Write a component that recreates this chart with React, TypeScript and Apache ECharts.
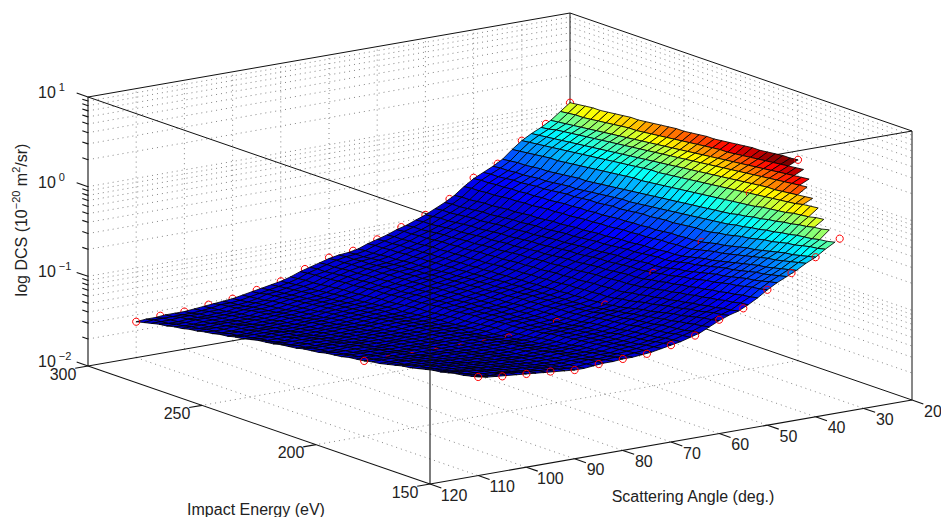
import React, { useEffect, useRef } from "react";
import * as echarts from "echarts";

// Tick labels
const angleTicks = [20, 30, 40, 50, 60, 70, 80, 90, 100, 110, 120];
const energyTicks = [150, 200, 250, 300];
const decadeExponents = [-2, -1, 0, 1];
const minorMultipliers = [2, 3, 4, 5, 6, 7, 8, 9];

// Red markers: log10(DCS) x 100, each read by eye from the marker's position in the picture
const markerAngles300 = [20, 25, 30, 35, 40, 45, 50, 55, 60, 65, 70, 75, 80, 85, 90, 95, 100, 105, 110];
const markerLog300 = [0, -19, -33, -54, -65, -84, -97, -106, -115, -123, -126, -134, -143, -148, -153, -155, -158, -158, -160];
const markerAngles200 = [20, 30, 40, 50, 60, 70, 80, 85, 90, 95, 100, 105, 110];
const markerLog200 = [24, -4, -49, -74, -100, -110, -118, -120, -120, -120, -120, -119, -116];
const markerAngles150 = [35, 40, 45, 50, 55, 60, 65, 70, 75, 80, 85, 90, 95, 100, 105, 110];
const markerLog150 = [-6, -22, -35, -49, -65, -73, -86, -92, -97, -98, -99, -101, -98, -96, -94, -90];

// Surface mesh: log10(DCS) x 100, estimated by eye. One list per scattering angle (20, 22, ... 110 deg),
// each ending at 300 eV, in energy steps of 10/3 eV; short lists stop where the surface's staircase edge does.
const meshAngleStart = 20;
const meshAngleStep = 2;
const meshEnergyEnd = 300;
const meshEnergyStep = 10 / 3;
const r020 = [24,23,23,22,21,20,20,19,18,17,16,15,15,14,13,12,12,11,10,9,8,7,7,6,5,4,3,3,2,1,0];
const r022 = [21,20,19,18,17,16,15,14,13,12,11,11,10,9,8,7,6,5,4,3,2,1,0,0,-1,-2,-3,-4,-5,-6,-6,-7,-8];
const r024 = [18,17,16,15,14,13,12,11,10,9,8,7,6,5,4,3,2,1,0,-1,-2,-3,-4,-5,-6,-7,-8,-9,-10,-11,-12,-13,-14,-15,-16];
const r026 = [14,13,12,11,10,9,8,7,6,5,4,3,2,1,0,-1,-2,-3,-4,-5,-6,-7,-8,-9,-10,-11,-12,-13,-14,-15,-16,-17,-18,-19,-21,-22];
const r028 = [9,8,7,6,5,4,4,3,2,1,0,-1,-2,-3,-4,-5,-6,-7,-8,-9,-10,-11,-12,-13,-14,-15,-16,-17,-18,-19,-20,-21,-22,-23,-24,-25,-26,-27];
const r030 = [6,5,4,2,1,0,-1,-2,-3,-4,-5,-6,-7,-8,-9,-10,-11,-12,-13,-14,-15,-16,-16,-17,-18,-19,-20,-21,-22,-23,-24,-25,-26,-27,-28,-29,-30,-31,-32,-33];
const r032 = [1,0,-2,-3,-4,-6,-7,-8,-9,-11,-12,-13,-14,-15,-16,-17,-18,-19,-20,-21,-22,-23,-24,-25,-26,-26,-27,-28,-29,-30,-31,-32,-33,-34,-35,-36,-36,-37,-38,-39,-40,-41];
const r034 = [-3,-5,-6,-8,-9,-11,-12,-14,-15,-17,-18,-20,-21,-23,-24,-25,-26,-27,-28,-29,-30,-31,-32,-33,-34,-35,-36,-37,-38,-39,-40,-41,-42,-42,-43,-44,-45,-46,-46,-47,-48,-48,-49,-50];
const r036 = [-9,-11,-12,-14,-15,-16,-18,-19,-21,-22,-24,-25,-27,-28,-30,-31,-32,-33,-34,-35,-36,-37,-38,-39,-40,-41,-42,-43,-43,-44,-45,-46,-47,-48,-49,-49,-50,-51,-52,-52,-53,-54,-54,-55,-55,-56];
const r038 = [-15,-17,-18,-20,-22,-23,-25,-27,-28,-30,-32,-33,-35,-37,-38,-40,-41,-41,-42,-43,-44,-44,-45,-46,-46,-47,-48,-49,-49,-50,-51,-51,-52,-53,-53,-54,-55,-56,-56,-57,-58,-58,-59,-60,-60,-61];
const r040 = [-22,-24,-26,-28,-29,-31,-33,-35,-37,-38,-40,-42,-44,-45,-47,-49,-50,-50,-51,-51,-52,-53,-53,-54,-54,-55,-55,-56,-57,-57,-58,-58,-59,-59,-60,-61,-61,-62,-62,-63,-63,-64,-64,-65,-65,-66];
const r042 = [-27,-29,-31,-33,-35,-36,-38,-40,-42,-44,-46,-48,-49,-51,-53,-55,-56,-56,-57,-57,-58,-59,-59,-60,-60,-61,-62,-62,-63,-63,-64,-65,-65,-66,-66,-67,-68,-68,-69,-69,-70,-71,-71,-72,-72,-73];
const r044 = [-33,-35,-37,-39,-41,-42,-44,-46,-48,-50,-52,-54,-55,-57,-59,-61,-62,-62,-63,-64,-64,-65,-66,-66,-67,-68,-68,-69,-70,-70,-71,-72,-72,-73,-74,-74,-75,-76,-76,-77,-78,-78,-79,-80,-80,-81];
const r046 = [-38,-40,-42,-44,-45,-47,-49,-51,-52,-54,-56,-58,-60,-61,-63,-65,-66,-66,-67,-68,-69,-69,-70,-71,-72,-72,-73,-74,-75,-75,-76,-77,-78,-78,-79,-80,-80,-81,-82,-83,-83,-84,-85,-86,-86,-87];
const r048 = [-43,-45,-47,-49,-50,-52,-54,-56,-57,-59,-61,-63,-65,-66,-68,-70,-71,-71,-72,-73,-74,-74,-75,-76,-77,-77,-78,-79,-80,-80,-81,-82,-83,-83,-84,-85,-85,-86,-87,-88,-88,-89,-90,-91,-91,-92];
const r050 = [-49,-51,-52,-54,-56,-57,-59,-61,-62,-64,-66,-67,-69,-71,-72,-74,-75,-76,-76,-77,-78,-79,-79,-80,-81,-82,-82,-83,-84,-85,-86,-86,-87,-88,-89,-89,-90,-91,-92,-92,-93,-94,-95,-95,-96,-97];
const r052 = [-56,-58,-59,-61,-62,-64,-65,-67,-68,-70,-71,-73,-74,-76,-77,-79,-80,-80,-81,-82,-83,-83,-84,-85,-86,-86,-87,-88,-89,-89,-90,-91,-92,-92,-93,-94,-94,-95,-96,-97,-97,-98,-99,-100,-100,-101];
const r054 = [-62,-63,-65,-66,-68,-69,-71,-72,-74,-75,-77,-78,-80,-81,-83,-84,-85,-85,-86,-87,-87,-88,-89,-90,-90,-91,-92,-92,-93,-94,-94,-95,-96,-97,-97,-98,-99,-99,-100,-101,-101,-102,-103,-104,-104,-105];
const r056 = [-67,-69,-70,-72,-73,-75,-76,-78,-79,-81,-82,-84,-85,-87,-88,-90,-91,-91,-92,-92,-93,-94,-94,-95,-95,-96,-97,-97,-98,-98,-99,-100,-100,-101,-101,-102,-103,-103,-104,-104,-105,-106,-106,-107,-107,-108];
const r058 = [-70,-72,-73,-75,-77,-78,-80,-82,-83,-85,-87,-88,-90,-92,-93,-95,-96,-96,-97,-97,-98,-98,-99,-100,-100,-101,-101,-102,-102,-103,-103,-104,-105,-105,-106,-106,-107,-107,-108,-108,-109,-110,-110,-111,-111,-112];
const r060 = [-74,-76,-77,-79,-81,-83,-84,-86,-88,-90,-91,-93,-95,-97,-98,-100,-100,-101,-101,-102,-102,-103,-103,-104,-104,-105,-105,-106,-106,-107,-107,-108,-108,-109,-109,-110,-110,-111,-111,-112,-112,-113,-113,-114,-114,-115];
const r062 = [-79,-81,-82,-84,-85,-87,-88,-90,-91,-93,-94,-96,-97,-99,-100,-102,-103,-103,-104,-104,-105,-105,-106,-106,-107,-107,-108,-108,-109,-110,-110,-111,-111,-112,-112,-113,-113,-114,-114,-115,-115,-116,-116,-117,-117,-118];
const r064 = [-84,-85,-87,-88,-89,-90,-92,-93,-94,-95,-97,-98,-99,-100,-102,-103,-104,-104,-105,-106,-106,-107,-107,-108,-109,-109,-110,-111,-111,-112,-112,-113,-114,-114,-115,-116,-116,-117,-117,-118,-119,-119,-120,-121,-121,-122];
const r066 = [-87,-88,-89,-91,-92,-93,-94,-95,-97,-98,-99,-100,-101,-103,-104,-105,-106,-106,-107,-108,-108,-109,-109,-110,-111,-111,-112,-113,-113,-114,-114,-115,-116,-116,-117,-118,-118,-119,-119,-120,-121,-121,-122,-123,-123,-124];
const r068 = [-90,-91,-92,-94,-95,-96,-97,-98,-100,-101,-102,-103,-104,-106,-107,-108,-109,-109,-110,-110,-111,-111,-112,-113,-113,-114,-114,-115,-115,-116,-116,-117,-118,-118,-119,-119,-120,-120,-121,-121,-122,-123,-123,-124,-124,-125];
const r070 = [-92,-93,-94,-96,-97,-98,-99,-100,-102,-103,-104,-105,-106,-108,-109,-110,-111,-111,-112,-112,-113,-113,-114,-115,-115,-116,-116,-117,-117,-118,-118,-119,-120,-120,-121,-121,-122,-122,-123,-123,-124,-125,-125,-126,-126,-127];
const r072 = [-94,-95,-96,-98,-99,-100,-101,-102,-103,-104,-105,-106,-107,-109,-110,-111,-112,-112,-113,-114,-114,-115,-115,-116,-117,-117,-118,-119,-119,-120,-120,-121,-122,-122,-123,-124,-124,-125,-125,-126,-127,-127,-128,-129,-129,-130];
const r074 = [-96,-97,-98,-99,-100,-101,-102,-103,-104,-105,-106,-107,-108,-110,-111,-112,-113,-113,-114,-115,-115,-116,-117,-118,-118,-119,-120,-120,-121,-122,-122,-123,-124,-125,-125,-126,-127,-127,-128,-129,-129,-130,-131,-132,-132,-133];
const r076 = [-97,-98,-99,-100,-101,-102,-103,-104,-105,-106,-107,-108,-109,-111,-112,-113,-114,-115,-115,-116,-117,-118,-118,-119,-120,-121,-121,-122,-123,-124,-125,-125,-126,-127,-128,-128,-129,-130,-131,-131,-132,-133,-134,-134,-135,-136];
const r078 = [-98,-99,-100,-102,-103,-104,-105,-106,-108,-109,-110,-111,-112,-114,-115,-116,-117,-118,-118,-119,-120,-121,-122,-122,-123,-124,-125,-126,-126,-127,-128,-129,-130,-130,-131,-132,-133,-134,-134,-135,-136,-137,-138,-138,-139,-140];
const r080 = [-98,-99,-101,-102,-103,-105,-106,-107,-109,-110,-111,-113,-114,-115,-117,-118,-119,-120,-120,-121,-122,-123,-124,-125,-125,-126,-127,-128,-129,-130,-130,-131,-132,-133,-134,-135,-135,-136,-137,-138,-139,-140,-140,-141,-142,-143];
const r082 = [-99,-100,-102,-103,-104,-105,-107,-108,-109,-110,-112,-113,-114,-115,-117,-118,-119,-120,-121,-122,-122,-123,-124,-125,-126,-127,-128,-129,-130,-131,-131,-132,-133,-134,-135,-136,-137,-138,-139,-140,-140,-141,-142,-143,-144,-145];
const r084 = [-99,-100,-101,-103,-104,-105,-106,-107,-109,-110,-111,-112,-113,-115,-116,-117,-118,-119,-120,-121,-122,-123,-124,-125,-126,-127,-128,-129,-130,-131,-132,-133,-134,-135,-136,-137,-138,-139,-140,-141,-142,-143,-144,-145,-146,-147];
const r086 = [-100,-101,-102,-103,-105,-106,-107,-108,-109,-110,-111,-113,-114,-115,-116,-117,-118,-119,-120,-121,-122,-123,-124,-125,-126,-127,-128,-129,-130,-132,-133,-134,-135,-136,-137,-138,-139,-140,-141,-142,-143,-144,-145,-146,-148,-149];
const r088 = [-101,-102,-103,-104,-105,-106,-107,-108,-110,-111,-112,-113,-114,-115,-116,-117,-118,-119,-120,-121,-122,-124,-125,-126,-127,-128,-129,-130,-132,-133,-134,-135,-136,-137,-138,-140,-141,-142,-143,-144,-145,-146,-148,-149,-150,-151];
const r090 = [-101,-102,-103,-104,-105,-106,-107,-108,-110,-111,-112,-113,-114,-115,-116,-117,-118,-119,-121,-122,-123,-124,-125,-127,-128,-129,-130,-131,-133,-134,-135,-136,-137,-139,-140,-141,-142,-143,-145,-146,-147,-148,-149,-151,-152,-153];
const r092 = [-100,-101,-102,-103,-105,-106,-107,-108,-109,-110,-111,-113,-114,-115,-116,-117,-118,-119,-121,-122,-123,-124,-126,-127,-128,-129,-131,-132,-133,-134,-136,-137,-138,-139,-141,-142,-143,-144,-146,-147,-148,-149,-151,-152,-153,-154];
const r094 = [-99,-100,-101,-103,-104,-105,-106,-107,-109,-110,-111,-112,-113,-115,-116,-117,-118,-120,-121,-122,-123,-125,-126,-127,-128,-130,-131,-132,-133,-135,-136,-137,-138,-140,-141,-142,-143,-145,-146,-147,-148,-150,-151,-152,-153,-155];
const r096 = [-98,-99,-101,-102,-103,-104,-106,-107,-108,-109,-111,-112,-113,-114,-116,-117,-118,-119,-121,-122,-123,-125,-126,-127,-129,-130,-131,-133,-134,-135,-137,-138,-139,-141,-142,-143,-145,-146,-147,-149,-150,-151,-153,-154,-155,-156];
const r098 = [-97,-98,-100,-101,-102,-104,-105,-106,-108,-109,-110,-112,-113,-114,-116,-117,-118,-120,-121,-122,-124,-125,-126,-128,-129,-130,-132,-133,-134,-136,-137,-138,-140,-141,-142,-144,-145,-146,-148,-149,-150,-152,-153,-154,-156,-157];
const r100 = [-96,-97,-99,-100,-102,-103,-104,-106,-107,-109,-110,-111,-113,-114,-116,-117,-118,-120,-121,-122,-124,-125,-126,-128,-129,-131,-132,-133,-135,-136,-137,-139,-140,-141,-143,-144,-146,-147,-148,-150,-151,-152,-154,-155,-157,-158];
const r102 = [-95,-96,-98,-99,-101,-102,-104,-105,-106,-108,-109,-111,-112,-114,-115,-116,-117,-119,-120,-122,-123,-124,-126,-127,-129,-130,-131,-133,-134,-136,-137,-138,-140,-141,-143,-144,-145,-147,-148,-150,-151,-152,-154,-155,-157,-158];
const r104 = [-94,-95,-97,-98,-100,-101,-103,-104,-106,-107,-109,-110,-112,-113,-115,-116,-117,-119,-120,-122,-123,-124,-126,-127,-129,-130,-131,-133,-134,-136,-137,-138,-140,-141,-143,-144,-145,-147,-148,-150,-151,-152,-154,-155,-157,-158];
const r106 = [-93,-95,-96,-98,-99,-101,-102,-104,-105,-107,-108,-110,-111,-113,-114,-116,-117,-119,-120,-122,-123,-125,-126,-127,-129,-130,-132,-133,-135,-136,-137,-139,-140,-142,-143,-145,-146,-147,-149,-150,-152,-153,-155,-156,-157,-159];
const r108 = [-92,-94,-95,-97,-98,-100,-102,-103,-105,-106,-108,-110,-111,-113,-114,-116,-117,-119,-120,-122,-123,-125,-126,-127,-129,-130,-132,-133,-135,-136,-137,-139,-140,-142,-143,-145,-146,-147,-149,-150,-152,-153,-155,-156,-157,-159];
const r110 = [-90,-92,-94,-95,-97,-99,-100,-102,-104,-106,-107,-109,-111,-113,-114,-116,-117,-118,-120,-121,-122,-124,-125,-126,-128,-129,-130,-132,-133,-134,-136,-138,-139,-141,-142,-144,-145,-147,-148,-150,-151,-153,-154,-156,-158,-160];
const meshRows = [r020,r022,r024,r026,r028,r030,r032,r034,r036,r038,r040,r042,r044,r046,r048,r050,r052,r054,r056,r058,r060,r062,r064,r066,r068,r070,r072,r074,r076,r078,r080,r082,r084,r086,r088,r090,r092,r094,r096,r098,r100,r102,r104,r106,r108,r110];

const FONT = "Liberation Sans";
const TICK_SIZE = 16;

// Orthographic view of the box, fitted to the reference's corners.
const ORIGIN = [430, 484];
const project = (angle: number, energy: number, logZ: number): number[] => {
  const u = (120 - angle) / 100;
  const v = (energy - 150) / 150;
  const w = (logZ + 2) / 3;
  return [ORIGIN[0] + 482 * u - 342 * v, ORIGIN[1] - 84 * u - 118 * v - 269 * w];
};
const vAngle = [342 / 361.8, 118 / 361.8];
const vEnergy = [-482 / 489.3, 84 / 489.3];
const vZTick = [-342 / 361.8, -118 / 361.8];

const jet = (c: number): string => {
  const q = Math.min(63, Math.floor(Math.max(0, Math.min(1, c)) * 64)) / 63;
  const f = (x: number) => Math.round(255 * Math.max(0, Math.min(1, x)));
  // the darkest blues are lifted: the reference's low cells read brighter than a plain jet
  const blue = Math.max(0.84, Math.min(4 * q + 0.5, -4 * q + 2.5));
  const b = q < 0.25 ? blue : Math.min(4 * q + 0.5, -4 * q + 2.5);
  return `rgb(${f(Math.min(4 * q - 1.5, -4 * q + 4.5))},${f(Math.min(4 * q - 0.5, -4 * q + 3.5))},${f(b)})`;
};

const toLin = (h: number) => Math.pow(10, h / 100);

type Seg = number[];
const gridSegs: Seg[] = [];
const boxSegs: Seg[] = [];
const frontSegs: Seg[] = [];
const seg = (list: Seg[], a: number[], b: number[]) => list.push([a[0], a[1], b[0], b[1]]);

const lo = -2, hi = 1;
angleTicks.slice(1, -1).forEach((a) => {
  seg(gridSegs, project(a, 300, lo), project(a, 300, hi));
  seg(gridSegs, project(a, 300, lo), project(a, 150, lo));
});
energyTicks.slice(1, -1).forEach((e) => {
  seg(gridSegs, project(20, e, lo), project(20, e, hi));
  seg(gridSegs, project(20, e, lo), project(120, e, lo));
});
const zLevels: number[] = [];
decadeExponents.forEach((d) => {
  if (d > lo && d < hi) zLevels.push(d);
  if (d < hi) minorMultipliers.forEach((m) => zLevels.push(d + Math.log10(m)));
});
zLevels.forEach((z) => {
  seg(gridSegs, project(120, 300, z), project(20, 300, z));
  seg(gridSegs, project(20, 300, z), project(20, 150, z));
});

// back box edges, hidden by the surface
seg(boxSegs, project(120, 300, hi), project(20, 300, hi));
seg(boxSegs, project(20, 300, hi), project(20, 150, hi));
seg(boxSegs, project(120, 300, hi), project(120, 150, hi));
seg(boxSegs, project(120, 150, hi), project(20, 150, hi));
seg(boxSegs, project(120, 300, lo), project(20, 300, lo));
seg(boxSegs, project(20, 300, lo), project(20, 150, lo));
seg(boxSegs, project(20, 300, lo), project(20, 300, hi));
seg(boxSegs, project(20, 150, lo), project(20, 150, hi));

// edges and ticks in front of it
seg(frontSegs, project(120, 150, lo), project(120, 150, hi));
seg(frontSegs, project(120, 300, lo), project(120, 300, hi));
seg(frontSegs, project(120, 300, lo), project(120, 150, lo));
seg(frontSegs, project(120, 150, lo), project(20, 150, lo));
const tick = (p: number[], d: number[], len: number) => seg(frontSegs, p, [p[0] + d[0] * len, p[1] + d[1] * len]);
angleTicks.forEach((a) => tick(project(a, 150, lo), vAngle, 12));
energyTicks.forEach((e) => tick(project(120, e, lo), vEnergy, 13));
decadeExponents.forEach((d) => tick(project(120, 300, d), vZTick, 12));
zLevels.forEach((z) => {
  if (!Number.isInteger(z)) tick(project(120, 300, z), vZTick, 6);
});

// Surface cells and markers, painted far to near
const allVals = meshRows.flat();
const zMax = toLin(Math.max(...allVals));
const zMin = toLin(Math.min(...allVals));
type Item = { d: number; fill?: string; pts?: number[][]; c?: number[] };
const items: Item[] = [];
const rowAngle = (i: number) => meshAngleStart + i * meshAngleStep;
const colEnergy = (row: number[], k: number) => meshEnergyEnd - (row.length - 1 - k) * meshEnergyStep;
meshRows.forEach((row, i) => {
  const next = meshRows[i + 1];
  if (!next) return;
  const a0 = rowAngle(i), a1 = rowAngle(i + 1);
  const shift = next.length - row.length;
  for (let k = 0; k < row.length - 1; k++) {
    const e0 = colEnergy(row, k), e1 = colEnergy(row, k + 1);
    const pts = [
      project(a0, e0, row[k] / 100),
      project(a0, e1, row[k + 1] / 100),
      project(a1, e1, next[k + 1 + shift] / 100),
      project(a1, e0, next[k + shift] / 100),
    ];
    const c = (toLin(row[k]) - zMin) / (zMax - zMin);
    items.push({
      d: (120 - (a0 + a1) / 2) / 100 + ((e0 + e1) / 2 - 150) / 150,
      fill: jet(c),
      pts,
    });
  }
});
const addMarkers = (angles: number[], logs: number[], energy: number) => {
  angles.forEach((a, i) => {
    const front = energy === 150 || a === 110 || (a === 20 && energy === 200);
    items.push({
      d: front ? -1 : (120 - a) / 100 + (energy - 150) / 150,
      c: project(a, energy, logs[i] / 100),
    });
  });
};
addMarkers(markerAngles300, markerLog300, 300);
addMarkers(markerAngles200, markerLog200, 200);
addMarkers(markerAngles150, markerLog150, 150);
items.sort((p, q) => q.d - p.d);

const segRender = (stroke: string, width: number, dash?: number[]) => (_: any, api: any) => {
  const a = api.coord([api.value(0), api.value(1)]);
  const b = api.coord([api.value(2), api.value(3)]);
  return {
    type: "line",
    shape: { x1: a[0], y1: a[1], x2: b[0], y2: b[1] },
    style: { stroke, lineWidth: width, lineDash: dash, fill: null },
    silent: true,
  };
};

const surfaceRender = (_: any, api: any) => {
  const it = items[api.value(0)];
  if (it.pts) {
    return {
      type: "polygon",
      shape: { points: it.pts.map((p) => api.coord(p)) },
      style: { fill: it.fill, stroke: "#000", lineWidth: 0.85 },
      silent: true,
    };
  }
  const c = api.coord(it.c);
  return {
    type: "circle",
    shape: { cx: c[0], cy: c[1], r: 3.6 },
    style: { fill: "none", stroke: "#f00", lineWidth: 1 },
    silent: true,
  };
};

const txt = (text: string, x: number, y: number, extra: any = {}) => ({
  type: "text",
  x,
  y,
  silent: true,
  style: { text, font: `${TICK_SIZE}px "${FONT}"`, fill: "#222", align: "center", verticalAlign: "middle", ...extra },
});

const labels: any[] = [
  ...angleTicks.map((a) => {
    const p = project(a, 150, lo);
    return txt(String(a), p[0] + (a >= 100 ? 24 : 21), p[1] + 11);
  }),
  ...energyTicks.map((e) => {
    const p = project(120, e, lo);
    return txt(String(e), p[0] - 25, p[1] + 8);
  }),
  ...decadeExponents.map((d) => {
    const p = project(120, 300, d);
    const sup = d < 0 ? "\u2212" + Math.abs(d) : String(d);
    return {
      type: "text",
      x: 38,
      y: p[1] - 6,
      silent: true,
      style: {
        text: `{b|10}{s|${sup}}`,
        align: "left",
        verticalAlign: "middle",
        rich: {
          b: { font: `${TICK_SIZE}px "${FONT}"`, fill: "#222", lineHeight: 19, verticalAlign: "bottom" },
          s: { font: `11px "${FONT}"`, fill: "#222", padding: [0, 0, 0, 3], lineHeight: 19, verticalAlign: "top" },
        },
      },
    };
  }),
  txt("Scattering Angle (deg.)", 693, 496),
  txt("Impact Energy (eV)", 256, 509),
  {
    type: "text",
    x: 20,
    y: 220,
    rotation: Math.PI / 2,
    silent: true,
    style: {
      text: "{b|log DCS (10}{s|\u221220}{b| m}{s|2}{b|/sr)}",
      align: "center",
      verticalAlign: "middle",
      rich: {
        b: { font: `${TICK_SIZE}px "${FONT}"`, fill: "#222", lineHeight: 19, verticalAlign: "bottom" },
        s: { font: `11px "${FONT}"`, fill: "#222", lineHeight: 19, verticalAlign: "top" },
      },
    },
  },
];

export default function App() {
  const ref = useRef<HTMLDivElement>(null);
  useEffect(() => {
    const chart = echarts.init(ref.current!, undefined, { renderer: "svg" });
    chart.setOption({
      animation: false,
      grid: { left: 0, right: 0, top: 0, bottom: 0 },
      xAxis: { type: "value", min: 0, max: 941, show: false },
      yAxis: { type: "value", min: 0, max: 517, inverse: true, show: false },
      graphic: labels,
      series: [
        { type: "custom", name: "grid", coordinateSystem: "cartesian2d", clip: false, z: 1, renderItem: segRender("#666", 0.8, [1, 4]), data: gridSegs },
        { type: "custom", name: "box", coordinateSystem: "cartesian2d", clip: false, z: 2, renderItem: segRender("#111", 1), data: boxSegs },
        { type: "custom", name: "surface", coordinateSystem: "cartesian2d", clip: false, z: 3, renderItem: surfaceRender, data: items.map((_, i) => [i]), encode: { x: 0 } },
        { type: "custom", name: "front", coordinateSystem: "cartesian2d", clip: false, z: 4, renderItem: segRender("#111", 1.1), data: frontSegs },
      ],
    });
    return () => chart.dispose();
  }, []);
  return <div ref={ref} style={{ position: "fixed", left: 0, top: 0, width: 941, height: 517, background: "#fff" }} />;
}
